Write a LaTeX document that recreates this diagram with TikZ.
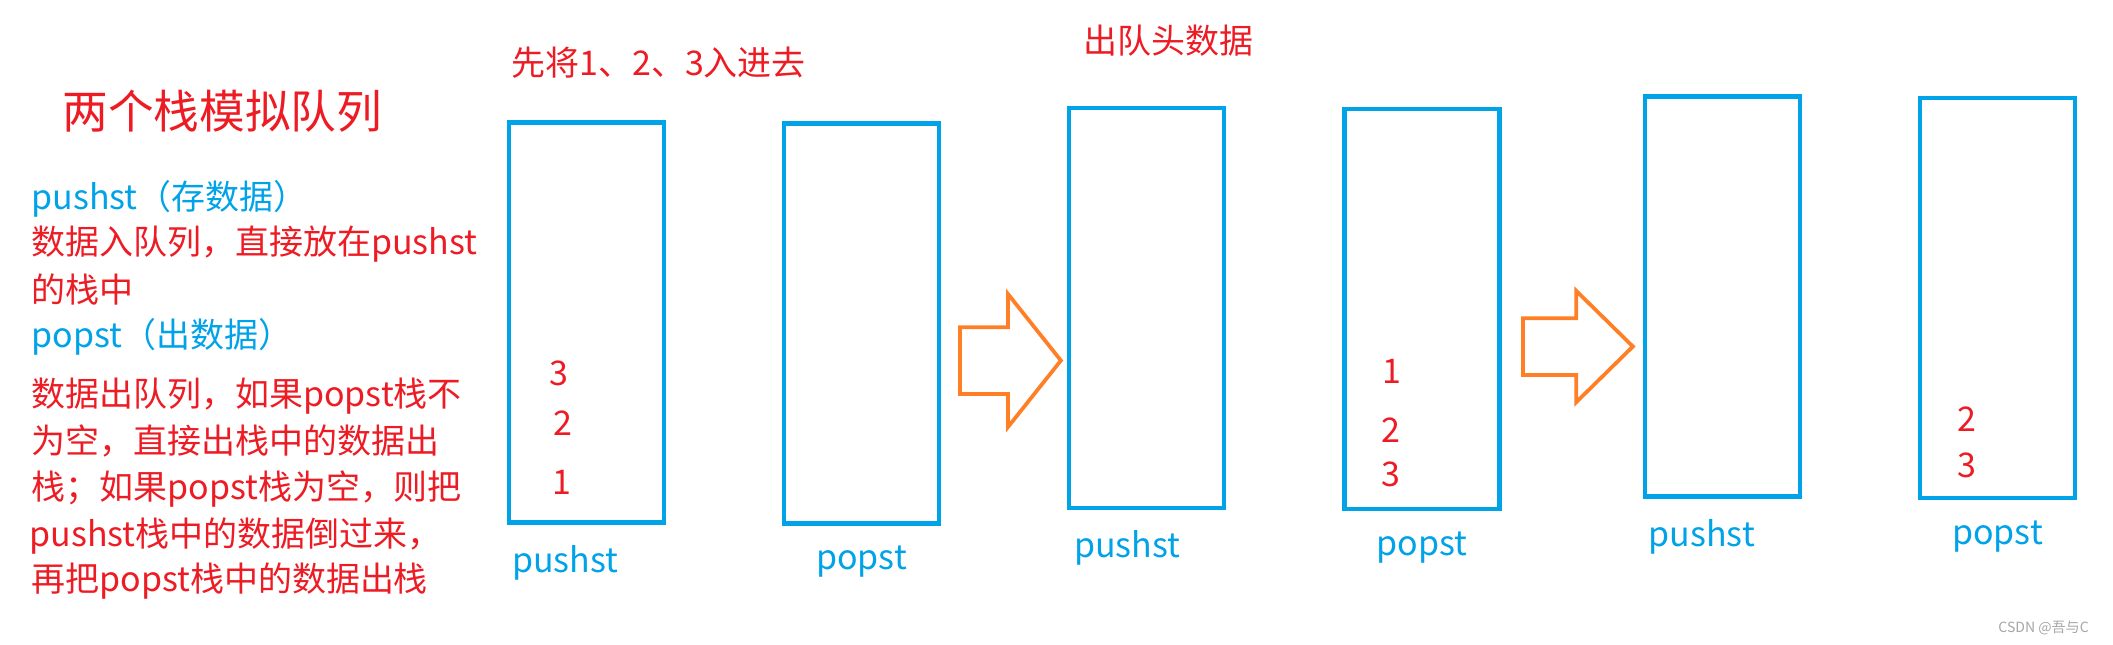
\documentclass[tikz,border=0pt]{standalone}
\usepackage{fontspec}
\setmainfont{Noto Sans CJK SC}
\usepackage{tikz}
\usetikzlibrary{shapes.arrows, positioning}
\definecolor{stackblue}{HTML}{00A2E8}
\definecolor{textred}{HTML}{ED1C24}
\definecolor{arrorange}{HTML}{FF7F27}

\begin{document}
\begin{tikzpicture}[
    x=0.015cm, y=-0.015cm,
    stack/.style={rectangle, draw=stackblue, line width=1.9pt,
                  minimum width=2.32cm, minimum height=6cm},
    note/.style={font=\fontsize{14.5}{17}\selectfont, text=#1, inner sep=0pt, anchor=west},
    lbl/.style={font=\fontsize{14.5}{17}\selectfont, text=stackblue, inner sep=0pt},
    num/.style={font=\fontsize{14.5}{17}\selectfont, text=textred, inner sep=0pt},
    hollow/.style={single arrow, draw=arrorange, line width=1.6pt, inner xsep=0pt, anchor=tail}
]
\useasboundingbox (0,0) rectangle (2113,644);

% Left notes
\node[note=textred, font=\fontsize{19.5}{22}\selectfont] (title) at (62,111) {两个栈模拟队列};
\node[note=stackblue] (t1) at (31,199) {pushst（存数据）};
\node[note=textred] (t2) at (31,244) {数据入队列，直接放在pushst};
\node[note=textred] (t3) at (31,290) {的栈中};
\node[note=stackblue] (t4) at (31,337) {popst（出数据）};
\node[note=textred] (t5) at (31,396) {数据出队列，如果popst栈不};
\node[note=textred] (t6) at (31,441) {为空，直接出栈中的数据出};
\node[note=textred] (t7) at (31,489) {栈；如果popst栈为空，则把};
\node[note=textred] (t8) at (29,536) {pushst栈中的数据倒过来，};
\node[note=textred] (t9) at (31,581) {再把popst栈中的数据出栈};

% Step captions
\node[note=textred] (cap1) at (511,63) {先将1、2、3入进去};
\node[note=textred] (cap2) at (1083,41) {出队头数据};

% Stacks
\node[stack] (s1) at (586.5,322.5) {};
\node[stack] (s2) at (861.5,323.5) {};
\node[stack] (s3) at (1146.5,308) {};
\node[stack] (s4) at (1422,309) {};
\node[stack] (s5) at (1722.5,296.5) {};
\node[stack] (s6) at (1997.5,298) {};

% Stack names
\node[lbl, below=0.3cm of s1, xshift=-0.32cm] (s1name) {pushst};
\node[lbl, below=0.3cm of s2] (s2name) {popst};
\node[lbl, below=0.3cm of s3, xshift=-0.29cm] (s3name) {pushst};
\node[lbl, below=0.3cm of s4] (s4name) {popst};
\node[lbl, below=0.3cm of s5, xshift=-0.31cm] (s5name) {pushst};
\node[lbl, below=0.3cm of s6] (s6name) {popst};

% Data
\node[num] (a3) at (559,373) {3};
\node[num] (a2) at (563,423) {2};
\node[num] (a1) at (562,482) {1};
\node[num] (b1) at (1392,371) {1};
\node[num] (b2) at (1391,430) {2};
\node[num] (b3) at (1391,474) {3};
\node[num] (c2) at (1967,419) {2};
\node[num] (c3) at (1967,465) {3};

% Arrows
\node[hollow, minimum height=1.515cm, inner ysep=0.4725cm,
      single arrow head extend=0.495cm, single arrow tip angle=103] (go1) at (958,360.5) {};
\node[hollow, minimum height=1.65cm, inner ysep=0.3975cm,
      single arrow head extend=0.41cm, single arrow tip angle=89] (go2) at (1521,346.5) {};

\node[font=\fontsize{6}{7}\selectfont, text=gray!70, anchor=east] (mark) at (2097,628) {CSDN @吾与C};
\end{tikzpicture}
\end{document}
